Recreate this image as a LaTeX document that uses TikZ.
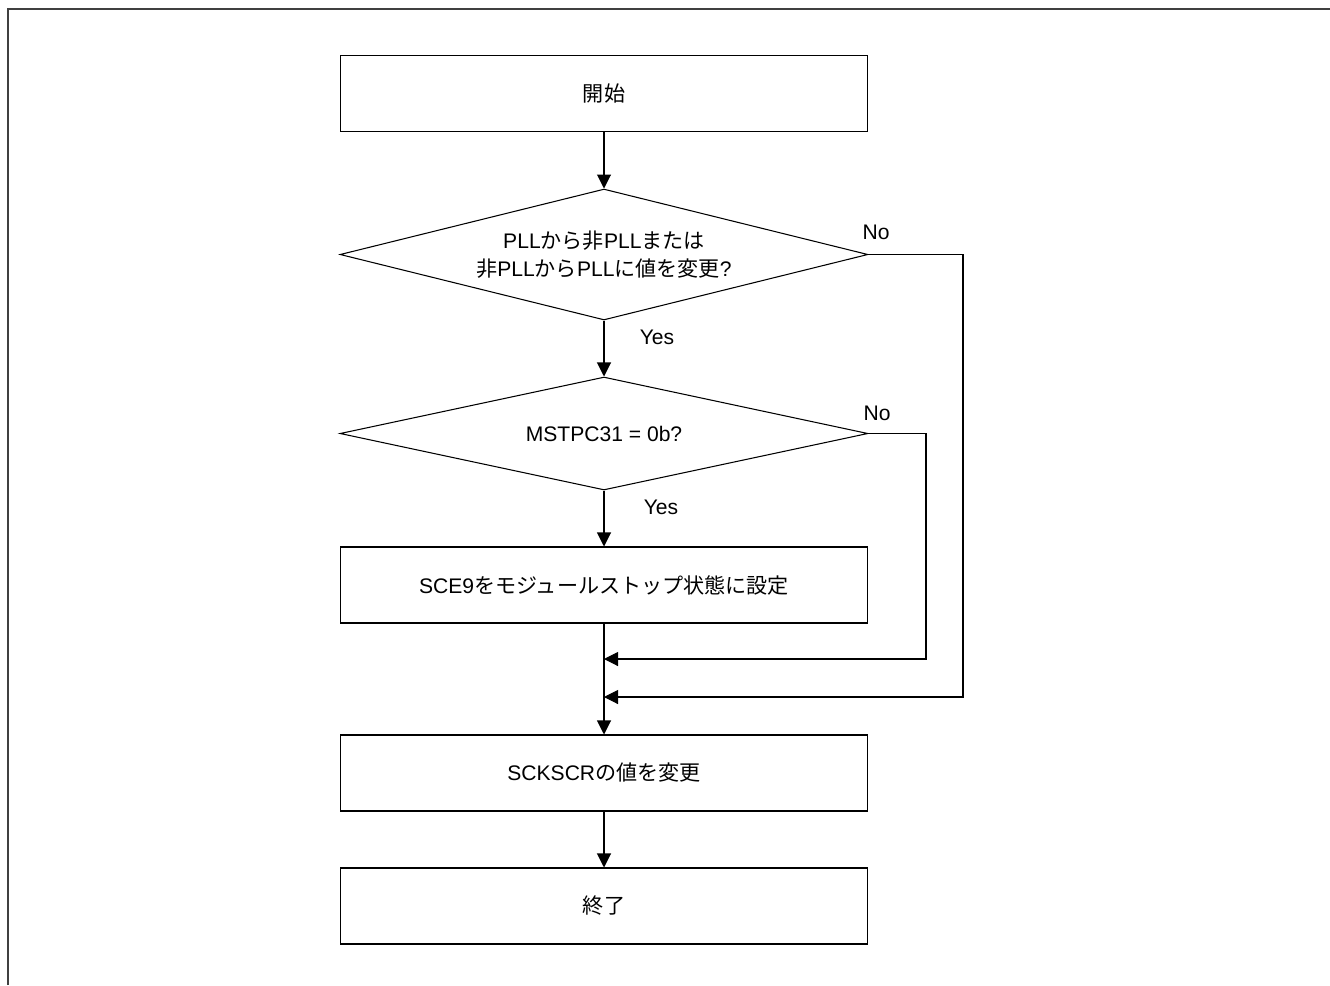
\documentclass[tikz,border=0pt]{standalone}
\usepackage{fontspec}
\setmainfont{Liberation Sans}
\newfontfamily\jpfont{Noto Sans CJK JP}
\usetikzlibrary{arrows.meta,shapes.geometric}
\definecolor{framegray}{HTML}{404040}
\newcommand{\ja}[1]{{\jpfont #1}}

\begin{document}
\begin{tikzpicture}[x=0.02cm,y=-0.02cm,>={Triangle[length=0.28cm,width=0.28cm]},line width=0.6pt,every node/.style={font=\fontsize{12}{16}\selectfont}]
  \tikzset{
    procbox/.style={draw,minimum width=10.56cm,minimum height=1.52cm,inner sep=0pt},
    decision/.style={draw,diamond,aspect=4,inner sep=0pt,align=center,minimum width=10.56cm},
  }
  \useasboundingbox (0,0) rectangle (1330,985);
  % frame
  \draw[framegray,line width=1.1pt] (8,985)--(8,9)--(1330,9);

  % steps
  \node[procbox] (start) at (604,93.5) {\ja{開始}};
  \node[decision,minimum height=2.62cm] (pll) at (604,254.5) {PLL\ja{から非}PLL\ja{または}\\\ja{非}PLL\ja{から}PLL\ja{に値を変更}?};
  \node[decision,minimum height=2.26cm] (mstp) at (604,433.5) {MSTPC31 = 0b?};
  \node[procbox] (setstop) at (604,585) {SCE9\ja{をモジュールストップ状態に設定}};
  \node[procbox] (sckscr) at (604,773) {SCKSCR\ja{の値を変更}};
  \node[procbox] (finish) at (604,906) {\ja{終了}};

  % branch labels
  \node (nopll) at (876,232) {No};
  \node (yespll) at (657,337) {Yes};
  \node (nomstp) at (877,413) {No};
  \node (yesmstp) at (661,507) {Yes};

  % merge points
  \coordinate (mergemstp) at (604,659);
  \coordinate (mergepll) at (604,697);
  \coordinate (turnmstp) at (926,659);
  \coordinate (turnpll) at (963,697);

  % connectors
  \draw[->] (start) -- (pll);
  \draw[->] (pll) -- (mstp);
  \draw[->] (mstp) -- (setstop);
  \draw[->] (setstop) -- (sckscr);
  \draw[->] (sckscr) -- (finish);
  \draw[->] (mstp.east) -| (turnmstp) -- (mergemstp);
  \draw[->] (pll.east) -| (turnpll) -- (mergepll);
\end{tikzpicture}
\end{document}
